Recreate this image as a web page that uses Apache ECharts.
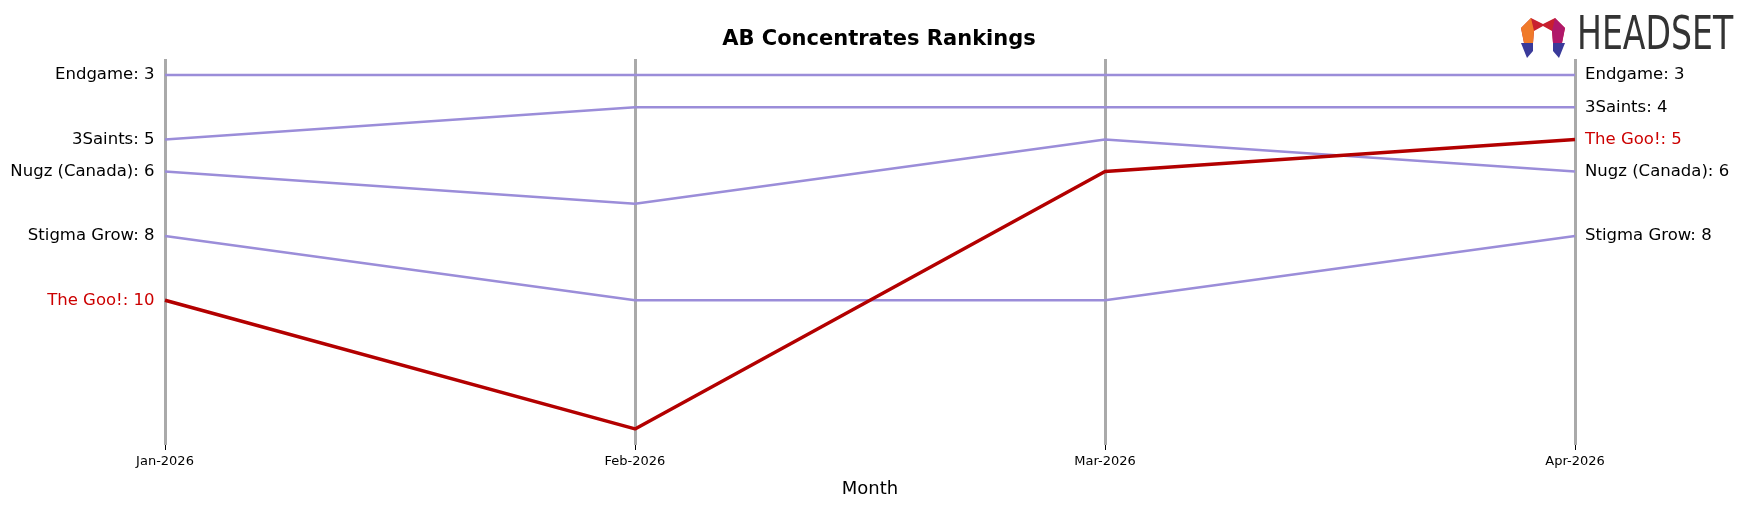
<!DOCTYPE html><html><head><meta charset="utf-8"><script src="https://cdn.jsdelivr.net/npm/echarts@6/dist/echarts.min.js"></script>
<style>html,body{margin:0;padding:0;background:#fff}#c{width:1758px;height:507px}</style></head><body><div id="c"></div><script>
const months=['Jan-2026','Feb-2026','Mar-2026','Apr-2026'];
const endgame=[3,3,3,3];
const saints=[5,4,4,4];
const nugz=[6,7,5,6];
const stigma=[8,10,10,8];
const goo=[10,14,6,5];
const names=['Endgame','3Saints','Nugz (Canada)','Stigma Grow','The Goo!'];
const all=[endgame,saints,nugz,stigma,goo];
const ff='DejaVu Sans';
const series=[];
all.forEach((d,i)=>{
  const hl=i===4;
  const col=hl?'#b30000':'#9b8dd9';
  const tcol=hl?'#cc0000':'#000000';
  series.push({type:'line',name:names[i],data:d,symbol:'none',z:hl?5:3,
    lineStyle:{color:col,width:hl?3.5:2.5},
    endLabel:{show:true,fontFamily:ff,fontSize:16.5,color:tcol,distance:10,formatter:()=>names[i]+': '+d[d.length-1]},
    emphasis:{disabled:true}});
  series.push({type:'scatter',data:[[0,d[0]]],symbolSize:1,itemStyle:{opacity:0},silent:true,
    label:{show:true,position:'left',distance:10,fontFamily:ff,fontSize:16.5,color:tcol,opacity:1,formatter:()=>names[i]+': '+d[0]},
    emphasis:{disabled:true}});
});
const chart=echarts.init(document.getElementById('c'));
chart.setOption({animation:false,
  title:{text:'AB Concentrates Rankings',left:'center',top:24,textStyle:{fontFamily:ff,fontSize:21,fontWeight:'bold',color:'#000'}},
  grid:{left:165,right:183,top:59,bottom:62},
  xAxis:{type:'category',data:months,boundaryGap:false,name:'Month',nameLocation:'middle',nameGap:35,
    nameTextStyle:{fontFamily:ff,fontSize:18,color:'#000'},
    axisLine:{show:false},axisTick:{show:true,length:5,lineStyle:{color:'#000'}},
    axisLabel:{fontFamily:ff,fontSize:13,color:'#000',margin:10},
    splitLine:{show:true,lineStyle:{color:'#aaaaaa',width:3}}},
  yAxis:{type:'value',inverse:true,min:2.5,max:14.5,show:false},
  graphic:[
    {type:'text',x:1577,y:14,scaleX:0.72,style:{text:'HEADSET',fontFamily:'DejaVu Sans',fontSize:46,fill:'#333'}},
    {type:'polygon',shape:{points:[[1543,24],[1531,18],[1521,28],[1524,43],[1533,43],[1534,31],[1543,26],[1552,31],[1553,43],[1562,43],[1565,28],[1555,18]]},style:{fill:'#c8202f'}},
    {type:'polygon',shape:{points:[[1521,28],[1531,18],[1534,31],[1533,43],[1524,43]]},style:{fill:'#f07a2a'}},
    {type:'polygon',shape:{points:[[1555,18],[1565,28],[1562,43],[1553,43],[1552,31]]},style:{fill:'#b0186a'}},
    {type:'polygon',shape:{points:[[1521,43],[1533,43],[1533,51],[1527,58]]},style:{fill:'#3a3a9a'}},
    {type:'polygon',shape:{points:[[1553,43],[1565,43],[1559,58],[1553,51]]},style:{fill:'#3a3a9a'}}
  ],
  series});
</script></body></html>
